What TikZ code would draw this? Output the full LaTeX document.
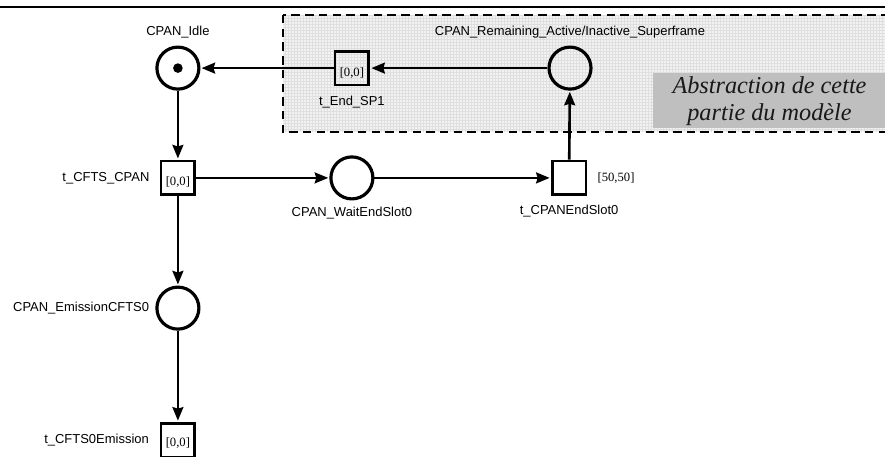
\documentclass[tikz,border=0pt]{standalone}
\usepackage{fontspec}
\setmainfont{Liberation Serif}
\setsansfont{Liberation Sans}
\usetikzlibrary{arrows.meta,positioning}

\tikzset{
    place/.style={circle,draw,line width=3pt,minimum size=1.4cm,inner sep=0pt},
    trans/.style={rectangle,draw,line width=2.7pt,minimum size=1.13cm,inner sep=0pt},
    lbl/.style={font=\sffamily\fontsize{12.3}{14}\selectfont,inner sep=0pt},
    delay/.style={font=\fontsize{12}{14}\selectfont,inner sep=0pt},
    arc/.style={line width=2.5pt,shorten >=1pt,-{Stealth[length=0.45cm,width=0.36cm,inset=0.05cm]}},
}

\begin{document}
\begin{tikzpicture}
    \useasboundingbox (0,0) rectangle (29.5,-15.23);
    \draw[line width=1.6pt] (0,-0.23) -- (29.5,-0.23);

    % abstracted part of the net
    \begin{scope}
        \clip (9.43,-0.5) rectangle (29.8,-4.4);
        \fill[gray!10] (9.43,-0.5) rectangle (29.8,-4.4);
        \draw[gray!25,line width=0.2pt,step=0.1] (9.4,-4.4) grid (29.8,-0.5);
    \end{scope}
    \draw[line width=1.8pt,dash pattern=on 8pt off 5pt] (9.43,-0.5) rectangle (29.8,-4.4);
    \fill[gray!50] (21.77,-2.43) rectangle (29.8,-4.27);
    \node[font=\itshape\fontsize{23}{25.5}\selectfont,align=center,text=black!90] (abstr) at (25.65,-3.38) {Abstraction de cette\\partie du modèle};

    \node[place] (idle) at (5.93,-2.27) {};
    \fill (idle) circle (0.16);
    \node[trans] (tEndSP1) at (11.73,-2.27) {};
    \node[place] (remain) at (19,-2.27) {};
    \node[trans] (tCFTS) at (5.93,-5.93) {};
    \node[place] (wait) at (11.73,-5.93) {};
    \node[trans] (tEndSlot) at (18.97,-5.93) {};
    \node[place] (emis) at (5.93,-10.27) {};
    \node[trans] (tEmis) at (5.93,-14.67) {};

    % labels
    \node[lbl,above=0.25cm of idle] {CPAN\_Idle};
    \node[lbl,above=0.25cm of remain] {CPAN\_Remaining\_Active/Inactive\_Superframe};
    \node[lbl,below=0.3cm of tEndSP1] {t\_End\_SP1};
    \node[lbl,left=0.33cm of tCFTS] {t\_CFTS\_CPAN};
    \node[lbl,below=0.23cm of wait] {CPAN\_WaitEndSlot0};
    \node[lbl,below=0.3cm of tEndSlot] {t\_CPANEndSlot0};
    \node[lbl,left=0.2cm of emis] {CPAN\_EmissionCFTS0};
    \node[lbl,left=0.35cm of tEmis] {t\_CFTS0Emission};

    % firing intervals
    \node[delay] at ([yshift=-0.15cm]tEndSP1.center) {[0,0]};
    \node[delay] at ([yshift=-0.15cm]tCFTS.center) {[0,0]};
    \node[delay] at ([yshift=-0.1cm]tEmis.center) {[0,0]};
    \node[delay,right=0.33cm of tEndSlot] {[50,50]};

    % arcs
    \draw[arc] (idle) -- (tCFTS);
    \draw[arc] (tCFTS) -- (wait);
    \draw[arc] (wait) -- (tEndSlot);
    \draw[arc] (tEndSlot) -- (remain);
    \draw[arc] (remain) -- (tEndSP1);
    \draw[arc] (tEndSP1) -- (idle);
    \draw[arc] (tCFTS) -- (emis);
    \draw[arc] (emis) -- (tEmis);
\end{tikzpicture}
\end{document}
